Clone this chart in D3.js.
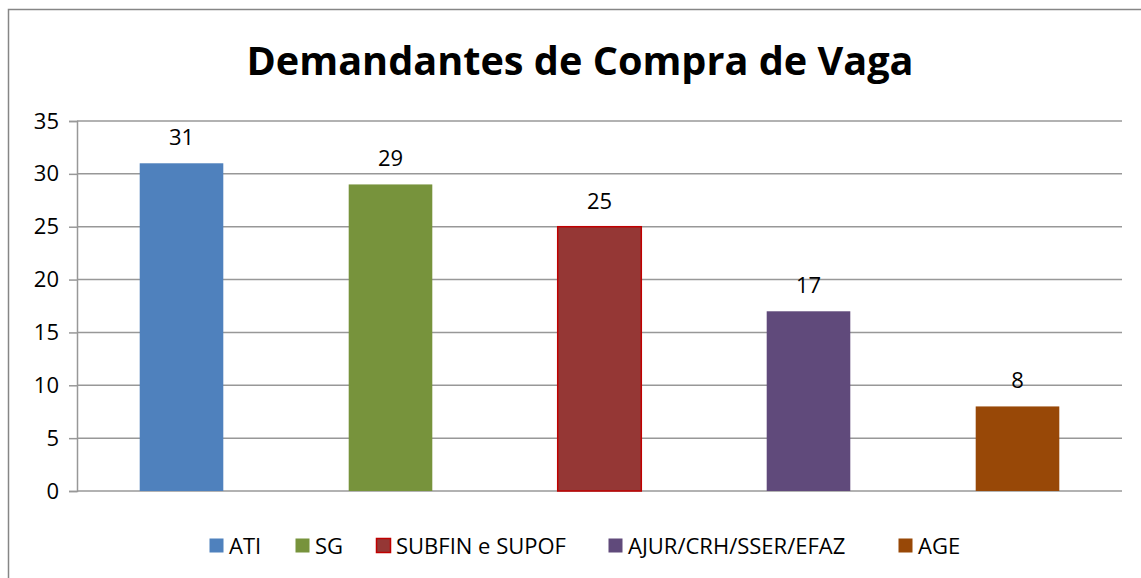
<!DOCTYPE html>
<html>
<head>
<meta charset="utf-8">
<script src="https://cdn.jsdelivr.net/npm/d3@7"></script>
<style>
  body { margin: 0; background: #fff; }
  svg { display: block; font-family: "Open Sans", sans-serif; }
</style>
</head>
<body>
<svg id="chart" width="1141" height="578"></svg>
<script>
// chart data
const categories = ["ATI", "SG", "SUBFIN e SUPOF", "AJUR/CRH/SSER/EFAZ", "AGE"];
const values = [31, 29, 25, 17, 8];
const colors = ["#4F81BD", "#77933C", "#953735", "#604A7B", "#984807"];
const strokes = ["none", "none", "#C00000", "none", "none"];
const yTicks = [0, 5, 10, 15, 20, 25, 30, 35];
const legendX = [209, 295, 376, 608, 898];

const svg = d3.select("#chart");
const margin = { left: 77, right: 1122, top: 121, bottom: 491 };

// outer frame (clipped on right and bottom like the original)
svg.append("rect")
  .attr("x", 8.5).attr("y", 9.5)
  .attr("width", 1200).attr("height", 600)
  .attr("fill", "none")
  .attr("stroke", "#868686")
  .attr("stroke-width", 1.5);

svg.append("text")
  .attr("x", 580).attr("y", 75)
  .attr("text-anchor", "middle")
  .attr("font-size", 39)
  .attr("font-weight", "bold")
  .attr("textLength", 667)
  .attr("lengthAdjust", "spacingAndGlyphs")
  .text("Demandantes de Compra de Vaga");

const x = d3.scaleBand()
  .domain(categories)
  .range([margin.left, margin.right])
  .paddingInner(0.6)
  .paddingOuter(0.3);

const y = d3.scaleLinear()
  .domain([0, 35])
  .range([margin.bottom, margin.top]);

// gridlines
svg.append("g")
  .selectAll("line")
  .data(yTicks)
  .enter().append("line")
  .attr("x1", margin.left).attr("x2", margin.right)
  .attr("y1", d => y(d)).attr("y2", d => y(d))
  .attr("stroke", "#989898")
  .attr("stroke-width", 1.5);

// y axis
const yAxis = svg.append("g")
  .attr("transform", `translate(${margin.left},0)`)
  .call(d3.axisLeft(y).tickValues(yTicks).tickSize(8).tickPadding(10));
yAxis.select(".domain").attr("stroke", "#989898").attr("stroke-width", 1.5);
yAxis.selectAll(".tick line").attr("stroke", "#989898").attr("stroke-width", 1.5);
yAxis.selectAll(".tick text")
  .attr("font-size", 22)
  .attr("font-family", "Open Sans, sans-serif")
  .attr("fill", "#000");

// bars
svg.append("g")
  .selectAll("rect")
  .data(values)
  .enter().append("rect")
  .attr("x", (d, i) => x(categories[i]))
  .attr("y", d => y(d))
  .attr("width", x.bandwidth())
  .attr("height", d => y(0) - y(d))
  .attr("fill", (d, i) => colors[i])
  .attr("stroke", (d, i) => strokes[i])
  .attr("stroke-width", 1.5);

// value labels
svg.append("g")
  .selectAll("text")
  .data(values)
  .enter().append("text")
  .attr("x", (d, i) => x(categories[i]) + x.bandwidth() / 2)
  .attr("y", d => y(d) - 18)
  .attr("text-anchor", "middle")
  .attr("font-size", 22)
  .text(d => d);

// legend
const legend = svg.append("g")
  .selectAll("g")
  .data(categories)
  .enter().append("g")
  .attr("transform", (d, i) => `translate(${legendX[i]},538)`);

legend.append("rect")
  .attr("width", 14).attr("height", 14)
  .attr("x", 0.5).attr("y", 0.5)
  .attr("fill", (d, i) => colors[i])
  .attr("stroke", (d, i) => strokes[i])
  .attr("stroke-width", 1.5);

legend.append("text")
  .attr("x", 20).attr("y", 15.5)
  .attr("font-size", 22)
  .text(d => d);
</script>
</body>
</html>
